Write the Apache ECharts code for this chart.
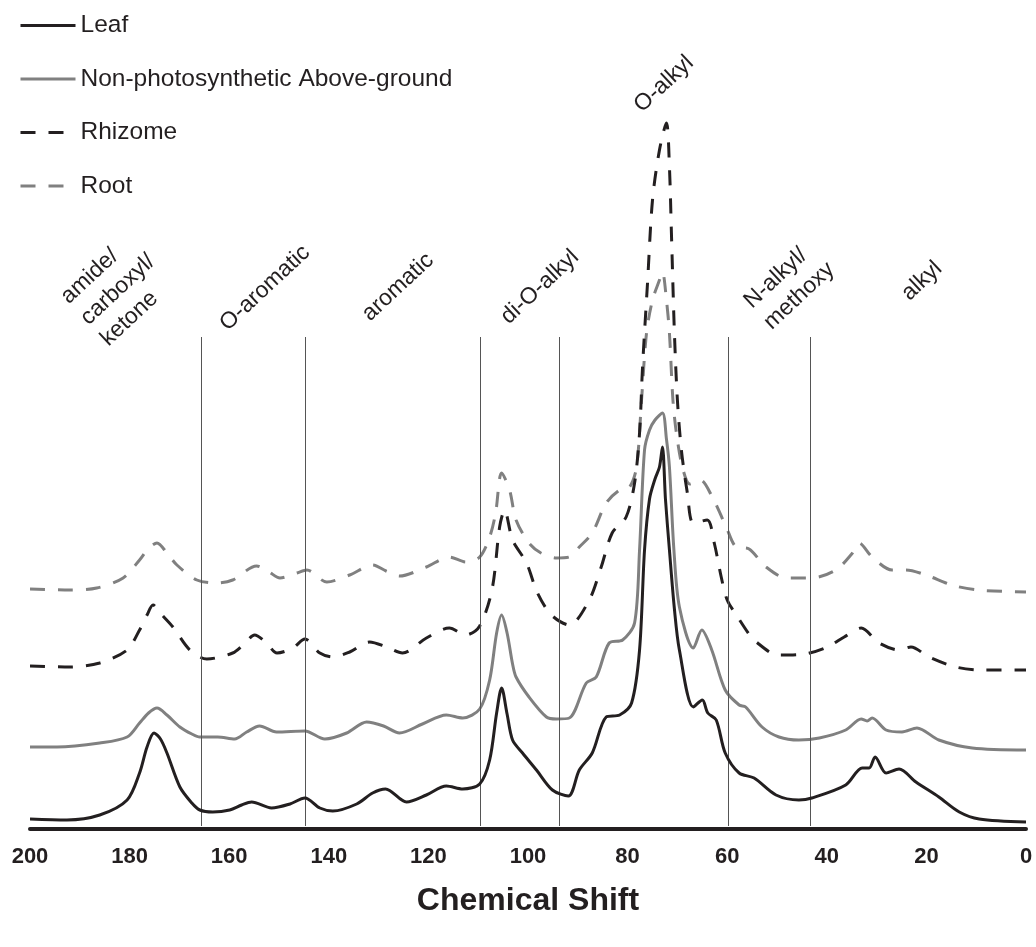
<!DOCTYPE html>
<html>
<head>
<meta charset="utf-8">
<script src="https://cdn.jsdelivr.net/npm/echarts@6/dist/echarts.min.js"></script>
<style>
html,body{margin:0;padding:0;background:#fff;}
#chart{width:1036px;height:947px;}
</style>
</head>
<body>
<div id="chart"></div>
<script>
// ---- data ----
const seriesNames = ['Leaf', 'Non-photosynthetic Above-ground', 'Rhizome', 'Root'];

const leafX = [200,192.6,186,180.5,178,176.5,175.1,173.8,172.5,169.9,167.5,165.9,163.3,159.9,157.5,155.5,151.5,147.8,144.8,141.8,139.2,134.4,131.2,128.6,124.4,120.4,116.4,113.1,109.7,107.7,106.3,105.3,104.2,103.1,101.1,98.3,95.1,91.9,89.7,87.1,84.3,81.6,79.2,77.6,76.6,75.6,74.5,73.6,73.0,72.4,71.6,70.6,69.6,66.8,65.0,63.9,62.2,60.4,57.6,54.6,50.2,45.6,43.0,36.2,32.9,31.5,30.3,28.1,25.5,22.1,17.5,13.4,9.4,0];
const leafY = [10,9,14,29,56,82,96,90,76,42,26,19,17,19,24,27,21,25,31,21,18,25,36,40,27,34,43,40,45,69,116,141,115,89,76,59,39,33,59,76,112,114,126,179,279,330,350,362,382,330,279,220,179,122,129,116,109,76,56,51,34,29,31,44,61,61,72,56,60,47,32,17,10,7];

const npagX = [200,194.6,186,180.5,178,176.2,174.5,172.5,169.9,167.5,165.9,162.3,158.9,156.5,153.9,150.5,144.8,140.8,136.4,132.4,129,125.8,121.2,116.4,113.1,109.7,107.7,106.3,105.3,104.2,103.1,102.4,99.8,96.3,94.3,91.7,88.3,86.3,83.7,81.0,78.6,77.6,76.6,75.6,74.5,73.0,72.2,71.6,70.7,69.6,66.8,65.1,63.1,60.4,57.6,56.3,53.0,49.6,45.6,41.5,36.2,33.1,31.9,30.9,28.1,24.9,21.9,17.5,10.8,0];
const npagY = [82,82,86,92,106,116,121,114,102,95,92,92,90,97,103,97,98,90,96,107,103,96,105,114,111,120,149,196,214,196,165,152,132,112,110,111,146,152,186,189,206,279,379,399,409,416,390,362,279,222,181,199,179,139,124,122,102,92,89,91,99,110,108,111,99,97,101,89,81,79];

const rhizX = [200,192,186,180.5,178,176.5,175.3,173.5,171.3,167.9,164.5,159.3,157,154.9,152.5,150.4,147.2,144.8,141.8,139.2,135.8,131.8,128.4,125.2,120.4,115.8,112.5,109.7,107.2,105.7,104.7,103.1,100.3,98.1,95.3,91.7,87.7,85.3,83.1,80.3,78.6,77.6,77.0,76.0,75.0,73.6,72.2,71.6,71.2,70.6,70.0,69.2,68.0,66.8,64.0,62.6,61.2,60.0,57.9,55.2,53.9,51.2,49.8,44.5,39.9,36.5,33.1,29.5,25.5,23.1,19.5,14.1,8.8,0];
const rhizY = [163,162,166,179,199,214,224,214,202,179,170,176,185,194,186,176,181,190,176,172,177,187,182,176,191,201,194,203,240,302,319,289,266,236,214,204,229,262,296,312,346,396,462,546,629,679,706,662,596,496,429,379,336,306,309,286,252,229,212,192,186,176,174,175,182,192,201,186,179,182,172,162,159,159];

const rootX = [200,192,186.6,181.3,178,176.3,174.5,172.5,170.5,166.5,162.5,159.3,154.5,152,149.8,146.4,144.4,140.4,135.8,131.2,128.5,125.8,120.4,115.8,112.5,109.7,107.7,106.5,105.3,103.7,102.4,99.8,97.4,94.3,91.7,89.7,87.1,84.3,81.6,79.6,78.2,77.2,76.2,75.0,73.6,73.0,72.2,71.6,70.9,70.2,69.0,67.5,65.4,63.0,60.2,58.2,55.6,52.2,48.1,43,38.2,35,33.5,30.9,26.9,24.1,20.1,14.9,9.7,0];
const rootY = [240,239,241,251,269,280,286,276,264,249,246,249,263,257,251,256,259,247,254,264,258,253,262,272,267,272,292,316,356,339,309,286,276,271,272,282,296,326,339,342,362,429,496,529,549,557,529,496,429,396,362,345,349,332,302,282,280,262,251,251,259,275,286,272,259,259,254,244,239,237];

const xTicks = [200,180,160,140,120,100,80,60,40,20,0];
const regionBounds = [165.7,144.7,109.6,93.8,59.8,43.4];
const regionLabels = ['amide/\ncarboxyl/\nketone','O-aromatic','aromatic','di-O-alkyl','O-alkyl','N-alkyl/\nmethoxy','alkyl'];

// ---- layout / style ----
const FONT = '"Liberation Sans", Arial, Helvetica, sans-serif';
const BLACK = '#231f20';
const GRAY = '#808080';
// label anchors in data coordinates [ppm, height], and text alignment
const labelAnchors = [
  {p:[189.1,508], align:'left'},
  {p:[152.8,541], align:'center'},
  {p:[126.1,542], align:'center'},
  {p:[97.6,542], align:'center'},
  {p:[72.7,745], align:'center'},
  {p:[53.9,514], align:'left'},
  {p:[20.9,548], align:'center'}
];

function pairs(xs, ys){ return xs.map((x,i)=>[x, ys[i]]); }

const chart = echarts.init(document.getElementById('chart'), null, {renderer:'canvas'});

const lineCommon = {type:'line', symbol:'none', showSymbol:false, smooth:0.3, animation:false, silent:true};

const option = {
  animation:false,
  backgroundColor:'#fff',
  grid:{left:30, right:10, top:29, bottom:118, containLabel:false, outerBoundsMode:'none'},
  legend:{
    orient:'vertical', left:19, top:13, padding:0, itemWidth:55, itemHeight:14, itemGap:28.5,
    selectedMode:false,
    data:seriesNames,
    itemStyle:{opacity:0},
    lineStyle:{width:3},
    textStyle:{fontFamily:FONT, fontSize:24.5, color:BLACK, lineHeight:24, padding:[0,0,0,0]}
  },
  xAxis:{
    type:'value', min:0, max:200, interval:20, inverse:true,
    axisLine:{show:true, onZero:false, lineStyle:{color:BLACK, width:4}},
    axisTick:{show:false},
    splitLine:{show:false},
    axisLabel:{fontFamily:FONT, fontSize:22, fontWeight:'bold', color:BLACK, margin:17,
      formatter:(v)=> xTicks.indexOf(v) >= 0 ? String(v) : ''},
    name:'Chemical Shift', nameLocation:'middle', nameGap:56,
    nameTextStyle:{fontFamily:FONT, fontSize:32, fontWeight:'bold', color:BLACK}
  },
  yAxis:{type:'value', min:0, max:800, show:false, splitLine:{show:false}},
  series:[
    Object.assign({}, lineCommon, {
      name:seriesNames[0], data:pairs(leafX, leafY), z:5,
      lineStyle:{color:BLACK, width:3, type:'solid'}, itemStyle:{color:BLACK},
      markLine:{
        silent:true, symbol:['none','none'], animation:false,
        label:{show:false}, emphasis:{disabled:true},
        lineStyle:{color:'#555', width:1, type:'solid'},
        data: regionBounds.map(b => [{coord:[b,3]},{coord:[b,492]}])
      }
    }),
    Object.assign({}, lineCommon, {
      name:seriesNames[1], data:pairs(npagX, npagY), z:4,
      lineStyle:{color:GRAY, width:3, type:'solid'}, itemStyle:{color:GRAY}
    }),
    Object.assign({}, lineCommon, {
      name:seriesNames[2], data:pairs(rhizX, rhizY), z:3,
      lineStyle:{color:BLACK, width:3, type:[15,13]}, itemStyle:{color:BLACK}
    }),
    Object.assign({}, lineCommon, {
      name:seriesNames[3], data:pairs(rootX, rootY), z:2,
      lineStyle:{color:GRAY, width:3, type:[15,13]}, itemStyle:{color:GRAY}
    })
  ]
};
chart.setOption(option);

const rot = 43 * Math.PI / 180;
const graphics = regionLabels.map((t, i) => {
  const a = labelAnchors[i];
  const px = chart.convertToPixel({gridIndex:0}, a.p);
  return {
    type:'text', x:px[0], y:px[1], rotation:rot, silent:true, z:10,
    style:{text:t, fontFamily:FONT, fontSize:23, fill:BLACK, align:a.align, verticalAlign:'middle', lineHeight:29}
  };
});
chart.setOption({graphic:graphics});
</script>
</body>
</html>
